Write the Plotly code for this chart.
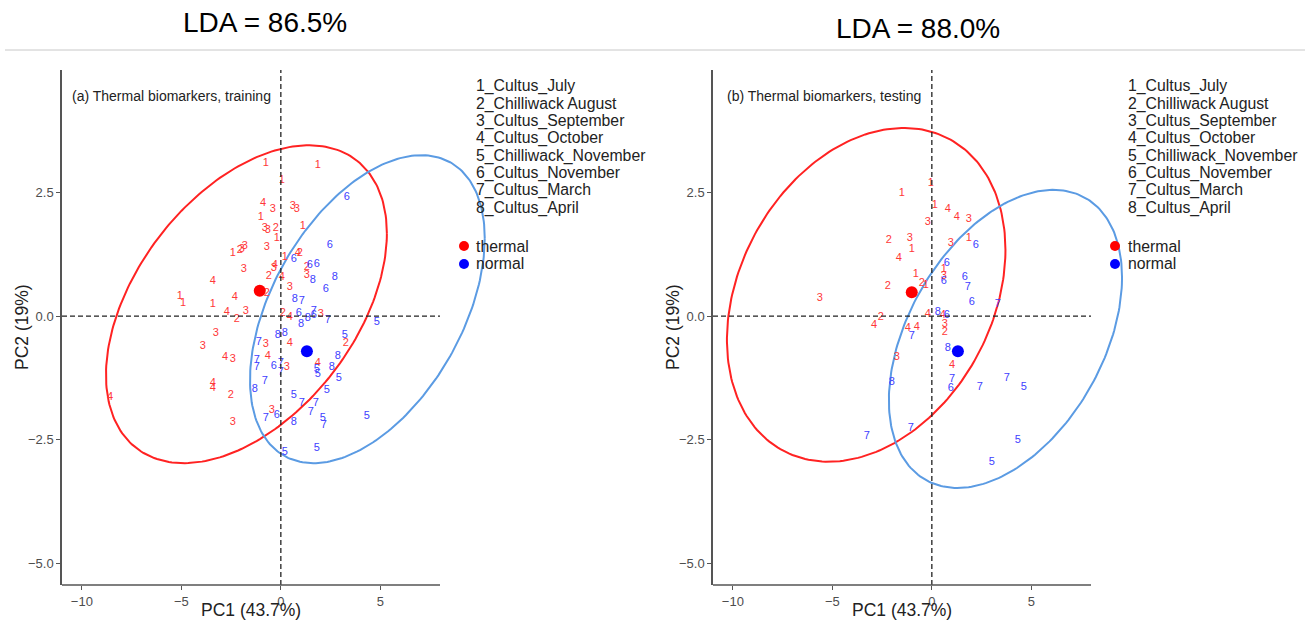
import numpy as np
import plotly.graph_objects as go

W, H = 1312, 626

# ---------------- data ----------------
# training (panel a)
train_red_x = [-0.75, 1.86, 0.05, -0.90, -0.40, 0.60, 0.80, -1.01, 1.11, -0.80, -0.65, -0.25, -0.20, -0.70,
               -1.81, -1.96, 0.20, 0.85, 0.95, -1.86, -0.30, -0.35, -0.60, 0.05, 1.31, 1.31, 0.45, -0.70,
               -2.41, -2.06, -3.42, -5.08, -4.92, -3.42, -2.31, -2.71, -1.76, -2.21, -3.27, -3.92, -2.81,
               -2.41, -3.42, -3.42, -2.51, -8.59, -2.41, 0.10, 0.45, 2.01, 3.27, -0.75, 0.45, -0.65, 0.30,
               1.86, -0.45]
train_red_y = [3.09, 3.05, 2.75, 2.28, 2.16, 2.22, 2.16, 2.00, 1.82, 1.78, 1.74, 1.78, 1.58, 1.39,
               1.41, 1.35, 1.19, 1.27, 1.27, 0.95, 1.03, 0.97, 0.81, 0.79, 0.99, 0.83, 0.59, 0.46,
               1.27, 1.33, 0.71, 0.40, 0.26, 0.24, 0.38, 0.08, 0.10, -0.06, -0.34, -0.61, -0.83,
               -0.87, -1.35, -1.45, -1.60, -1.64, -2.14, 0.06, -0.02, 0.04, -0.55, -0.57, -0.55, -0.81, -1.03,
               -0.95, -1.90]
train_red_lab = ["1", "1", "1", "4", "3", "3", "3", "1", "1", "3", "3", "2", "1", "3",
                 "3", "3", "1", "4", "2", "3", "4", "3", "2", "4", "2", "3", "3", "2",
                 "1", "2", "4", "1", "1", "1", "4", "4", "3", "2", "3", "3", "4",
                 "3", "4", "4", "2", "4", "3", "2", "4", "3", "2", "3", "4", "4", "3",
                 "4", "3"]

train_blue_x = [3.32, 2.46, 0.65, 1.46, 1.81, 1.61, 2.71, 2.26, 0.70, 1.06, 0.90, 1.01, 1.36, 1.66, 1.66,
                2.36, 4.82, 3.22, -0.15, 0.20, -1.11, 2.86, -1.21, -1.21, -0.35, 0.00, 0.00, 1.81, 1.86,
                2.56, 2.91, -0.80, -1.31, 2.31, 0.65, 1.06, 1.76, 1.51, -0.20, -0.75, 0.65, 2.11, 2.16,
                4.32, 1.81, 0.20]
train_blue_y = [2.40, 1.43, 1.15, 1.03, 1.05, 0.73, 0.79, 0.55, 0.34, 0.30, 0.06, -0.16, -0.04, 0.02, 0.10,
                -0.08, -0.12, -0.38, -0.38, -0.34, -0.53, -0.81, -0.89, -1.03, -1.01, -0.95, -1.13, -1.07, -1.17,
                -1.03, -1.25, -1.31, -1.47, -1.49, -1.60, -1.76, -1.76, -1.94, -2.00, -2.06, -2.14, -2.06, -2.20,
                -2.02, -2.67, -2.75]
train_blue_lab = ["6", "6", "6", "6", "6", "8", "8", "6", "8", "7", "6", "8", "8", "6", "7",
                  "7", "5", "5", "8", "8", "7", "8", "7", "7", "6", "7", "7", "5", "5",
                  "8", "5", "7", "8", "5", "5", "7", "7", "7", "6", "7", "8", "5", "7",
                  "5", "5", "5"]

# testing (panel b)
test_red_x = [-0.05, -1.51, 0.15, 0.80, 1.26, 1.86, -0.20, -2.16, -1.11, -1.01, -1.66, 0.95, 1.86, -0.80,
              -0.50, -0.30, -2.21, -5.63, 0.60, 0.60, -2.56, -2.91, -0.20, 0.55, 0.65, 0.65, -1.21, -0.75,
              -1.76, 1.01]
test_red_y = [2.69, 2.48, 2.24, 2.16, 2.00, 1.96, 1.90, 1.54, 1.58, 1.35, 1.17, 1.47, 1.58, 0.85,
              0.67, 0.63, 0.61, 0.36, 0.95, 0.81, -0.02, -0.18, 0.04, 0.02, -0.16, -0.32, -0.24, -0.22,
              -0.83, -0.99]
test_red_lab = ["1", "1", "1", "4", "4", "3", "3", "2", "3", "1", "4", "3", "1", "1",
                "2", "1", "2", "3", "1", "3", "2", "4", "4", "4", "3", "2", "4", "4",
                "3", "4"]

test_blue_x = [2.21, 0.75, 0.60, 1.66, 1.81, 2.01, 3.32, 0.30, 0.75, -1.01, 0.80, -2.01, 1.01, 0.95,
               2.41, 3.77, 4.62, 4.32, 3.02, -1.06, -3.27]
test_blue_y = [1.43, 1.07, 0.71, 0.79, 0.59, 0.28, 0.24, 0.08, 0.02, -0.40, -0.65, -1.33, -1.27, -1.45,
               -1.43, -1.25, -1.43, -2.51, -2.95, -2.26, -2.42]
test_blue_lab = ["6", "6", "6", "6", "7", "6", "7", "8", "6", "7", "8", "8", "7", "6",
                 "7", "7", "5", "5", "5", "7", "7"]

# group centroids
train_cent_x = [-1.06, 1.31]
train_cent_y = [0.51, -0.71]
test_cent_x = [-1.01, 1.31]
test_cent_y = [0.48, -0.71]

# ellipse parameters: centre x, centre y, half-width, half-height, covariance xy
ell_train_red = [-1.73, 0.24, 7.06, 3.21, 10.1]
ell_train_blue = [4.35, 0.14, 5.90, 3.11, 8.44]
ell_test_red = [-3.30, 0.43, 7.00, 3.37, 6.37]
ell_test_blue = [3.70, -0.46, 5.86, 3.01, 7.27]

legend_items = ["1_Cultus_July", "2_Chilliwack August", "3_Cultus_September", "4_Cultus_October",
                "5_Chilliwack_November", "6_Cultus_November", "7_Cultus_March", "8_Cultus_April"]
group_names = ["thermal", "normal"]
titles = ["LDA = 86.5%", "LDA = 88.0%"]
panel_labels = ["(a) Thermal biomarkers, training", "(b) Thermal biomarkers, testing"]
x_title = "PC1 (43.7%)"
y_title = "PC2 (19%)"
x_ticks = [-10, -5, 0, 5]
y_ticks = [-5, -2.5, 0, 2.5]
x_lo, x_axis_end, x_hi = -11.0, 8.0, 10.5
y_lo, y_hi = -5.43, 4.97

# ---------------- styling ----------------
RED_T = "#FF3838"
BLUE_T = "#4040FF"
RED_E = "#FF2222"
BLUE_E = "#5B9BE3"
FONT = "Liberation Sans, Arial, sans-serif"
AX = "#555555"
DASH = "5px,3px"


def ellipse(p, n=240):
    cx, cy, hw, hh, sxy = p
    l11 = hw
    l21 = sxy / l11
    l22 = np.sqrt(hh ** 2 - l21 ** 2)
    t = np.linspace(0, 2 * np.pi, n)
    return cx + l11 * np.cos(t), cy + l21 * np.cos(t) + l22 * np.sin(t)


def px(x):
    return x / W


def py(y):
    return 1 - y / H


fig = go.Figure()

panels = [
    ("x", "y", train_red_x, train_red_y, train_red_lab, train_blue_x, train_blue_y, train_blue_lab,
     train_cent_x, train_cent_y, ell_train_red, ell_train_blue),
    ("x2", "y2", test_red_x, test_red_y, test_red_lab, test_blue_x, test_blue_y, test_blue_lab,
     test_cent_x, test_cent_y, ell_test_red, ell_test_blue),
]

for (xa, ya, rx, ry, rl, bx, by, bl, cxs, cys, er, eb) in panels:
    ex, ey = ellipse(er)
    fig.add_trace(go.Scatter(x=ex, y=ey, mode="lines", line=dict(color=RED_E, width=2),
                             xaxis=xa, yaxis=ya, showlegend=False, hoverinfo="skip"))
    ex, ey = ellipse(eb)
    fig.add_trace(go.Scatter(x=ex, y=ey, mode="lines", line=dict(color=BLUE_E, width=2),
                             xaxis=xa, yaxis=ya, showlegend=False, hoverinfo="skip"))
    fig.add_trace(go.Scatter(x=rx, y=ry, text=rl, mode="text", textposition="middle center",
                             textfont=dict(color=RED_T, size=11, family=FONT),
                             xaxis=xa, yaxis=ya, showlegend=False))
    fig.add_trace(go.Scatter(x=bx, y=by, text=bl, mode="text", textposition="middle center",
                             textfont=dict(color=BLUE_T, size=11, family=FONT),
                             xaxis=xa, yaxis=ya, showlegend=False))
    fig.add_trace(go.Scatter(x=cxs, y=cys, mode="markers",
                             marker=dict(color=["#FF0000", "#0000FF"], size=12),
                             xaxis=xa, yaxis=ya, showlegend=False))

# the visible axis ends at x=8, but the panel extends further so that the ellipses are not clipped
scale = (440 - 62) / (x_axis_end - x_lo)
span_px = (x_hi - x_lo) * scale

axis_common = dict(range=[x_lo, x_hi], showgrid=False, zeroline=False, showline=False,
                   ticks="outside", ticklen=4, tickcolor=AX, tickwidth=1.3, tickvals=x_ticks,
                   tickfont=dict(size=13, color="#4D4D4D", family=FONT))
yaxis_common = dict(range=[y_lo, y_hi], showgrid=False, zeroline=False, showline=True,
                    linecolor=AX, linewidth=1.5, ticks="outside", ticklen=4,
                    tickcolor=AX, tickwidth=1.3, tickvals=y_ticks, tickformat=".1f",
                    tickfont=dict(size=13, color="#4D4D4D", family=FONT))

fig.update_layout(
    width=W, height=H, margin=dict(l=0, r=0, t=0, b=0),
    paper_bgcolor="white", plot_bgcolor="rgba(0,0,0,0)",
    xaxis=dict(domain=[px(62), px(62 + span_px)], anchor="y", **axis_common),
    yaxis=dict(domain=[py(585), py(70)], anchor="x", **yaxis_common),
    xaxis2=dict(domain=[px(713), px(713 + span_px)], anchor="y2", **axis_common),
    yaxis2=dict(domain=[py(585), py(70)], anchor="x2", **yaxis_common),
)

shapes = []
for xr, yr in (("x", "y"), ("x2", "y2")):
    shapes.append(dict(type="line", xref=xr, yref=yr + " domain", x0=0, x1=0, y0=0, y1=1,
                       line=dict(color="#222222", width=1.3, dash=DASH)))
    shapes.append(dict(type="line", xref=xr, yref=yr, x0=x_lo, x1=x_axis_end, y0=0, y1=0,
                       line=dict(color="#222222", width=1.3, dash=DASH)))
    shapes.append(dict(type="line", xref=xr, yref=yr + " domain", x0=x_lo, x1=x_axis_end, y0=0, y1=0,
                       line=dict(color=AX, width=1.5)))
# separator line under titles
shapes.append(dict(type="line", xref="paper", yref="paper", x0=px(5), x1=px(1305), y0=py(50), y1=py(50),
                   line=dict(color="#C8C8C8", width=1)))

annotations = []
title_pos = [(265, 22), (918, 28)]
for t, (tx, ty) in zip(titles, title_pos):
    annotations.append(dict(text=t, x=px(tx), y=py(ty), xref="paper", yref="paper", showarrow=False,
                            xanchor="center", yanchor="middle",
                            font=dict(size=28, color="#000000", family=FONT)))
panel_pos = [70, 725]
for lab, lx in zip(panel_labels, panel_pos):
    annotations.append(dict(text=lab, x=px(lx), y=py(96), xref="paper", yref="paper", showarrow=False,
                            xanchor="left", yanchor="middle",
                            font=dict(size=14, color="#222222", family=FONT)))
# axis titles (centred on the panel, as in the original)
for cx0, ylx in ((251, 22), (902, 673)):
    annotations.append(dict(text=x_title, x=px(cx0), y=py(610), xref="paper", yref="paper", showarrow=False,
                            xanchor="center", yanchor="middle",
                            font=dict(size=17.5, color="#222222", family=FONT)))
    annotations.append(dict(text=y_title, x=px(ylx), y=py(327), xref="paper", yref="paper", showarrow=False,
                            xanchor="center", yanchor="middle", textangle=-90,
                            font=dict(size=17.5, color="#222222", family=FONT)))

legend_x = [474, 1126]
dot_x = [464, 1115]
item_y = [86, 103.5, 121, 138.5, 156, 173, 190.5, 208]
grp_y = [246, 264]
grp_col = ["#FF0000", "#0000FF"]
for lx, dx in zip(legend_x, dot_x):
    for it, iy in zip(legend_items, item_y):
        annotations.append(dict(text=it, x=px(lx), y=py(iy), xref="paper", yref="paper", showarrow=False,
                                xanchor="left", yanchor="middle",
                                font=dict(size=15.8, color="#222222", family=FONT)))
    for g, gy, gc in zip(group_names, grp_y, grp_col):
        annotations.append(dict(text=g, x=px(lx), y=py(gy), xref="paper", yref="paper", showarrow=False,
                                xanchor="left", yanchor="middle",
                                font=dict(size=15.8, color="#222222", family=FONT)))
        shapes.append(dict(type="circle", xref="paper", yref="paper",
                           x0=px(dx - 5), x1=px(dx + 5), y0=py(gy + 5), y1=py(gy - 5),
                           fillcolor=gc, line=dict(width=0)))

fig.update_layout(shapes=shapes, annotations=annotations)
fig.write_html("out.html", config={"displayModeBar": False},
               post_script="document.body.style.margin='0px';")
